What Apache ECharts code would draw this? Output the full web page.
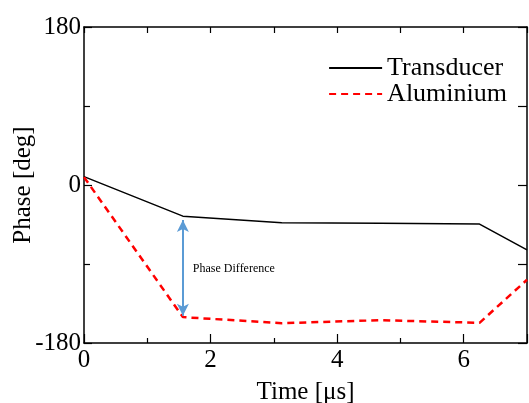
<!DOCTYPE html>
<html>
<head>
<meta charset="utf-8">
<script src="https://cdn.jsdelivr.net/npm/echarts@6/dist/echarts.min.js"></script>
<style>
  html, body { margin: 0; padding: 0; background: #fff; }
  #chart { width: 529px; height: 403px; }
</style>
</head>
<body>
<div id="chart"></div>
<script>
// 数据
var times = [0, 1.5625, 3.125, 4.6875, 6.25, 7];
var transducer = [9.5, -35.5, -43, -43.5, -44.5, -74];
var aluminium = [9, -150.5, -157.5, -154, -157, -108];
var arrowY = [-40, -149];      // 相位差箭头的两端
var arrowX = 1.5625;
var noteXY = [1.72, -95];      // "Phase Difference" 文字位置
var seriesNames = ['Transducer', 'Aluminium'];

var font = 'Liberation Serif';

function pairs(xs, ys) {
    return xs.map(function (x, i) { return [x, ys[i]]; });
}

var myChart = echarts.init(document.getElementById('chart'));

var option = {
    animation: false,
    backgroundColor: '#fff',
    textStyle: { fontFamily: font },
    grid: { left: 84, right: 2, top: 27, bottom: 60, containLabel: false, outerBoundsMode: 'none' },
    legend: {
        data: seriesNames,
        orient: 'vertical',
        right: 22,
        top: 55,
        padding: 0,
        itemGap: 0,
        itemWidth: 53,
        itemHeight: 14,
        itemStyle: { opacity: 0 },
        textStyle: { fontFamily: font, fontSize: 26, lineHeight: 26, color: '#000' }
    },
    xAxis: [{
        type: 'value',
        min: 0, max: 7, interval: 2,
        name: 'Time [\u03bcs]',
        nameLocation: 'middle',
        nameGap: 37,
        nameMoveOverlap: false,
        nameTextStyle: { fontFamily: font, fontSize: 25, color: '#000' },
        axisLine: { onZero: false, lineStyle: { color: '#000', width: 1.5 } },
        axisTick: { inside: true, length: 9, lineStyle: { color: '#000', width: 1.2 } },
        minorTick: { show: true, splitNumber: 2, length: 5, lineStyle: { color: '#000', width: 1.2 } },
        axisLabel: { showMaxLabel: false, margin: 5, fontFamily: font, fontSize: 25, color: '#000' },
        splitLine: { show: false }
    }, {
        type: 'value',
        position: 'top',
        min: 0, max: 7, interval: 2,
        axisLine: { onZero: false, lineStyle: { color: '#000', width: 1.5 } },
        axisTick: { inside: true, length: 6, lineStyle: { color: '#000', width: 1.2 } },
        minorTick: { show: true, splitNumber: 2, length: 6, lineStyle: { color: '#000', width: 1.2 } },
        axisLabel: { show: false },
        splitLine: { show: false }
    }],
    yAxis: [{
        type: 'value',
        min: -180, max: 180, interval: 180,
        name: 'Phase [deg]',
        nameLocation: 'middle',
        nameGap: 48,
        nameMoveOverlap: false,
        nameTextStyle: { fontFamily: font, fontSize: 25, color: '#000' },
        axisLine: { onZero: false, lineStyle: { color: '#000', width: 1.5 } },
        axisTick: { inside: true, length: 8, lineStyle: { color: '#000', width: 1.2 } },
        minorTick: { show: true, splitNumber: 2, length: 6, lineStyle: { color: '#000', width: 1.2 } },
        axisLabel: { margin: 3, fontFamily: font, fontSize: 25, color: '#000' },
        splitLine: { show: false }
    }, {
        type: 'value',
        position: 'right',
        min: -180, max: 180, interval: 180,
        axisLine: { onZero: false, lineStyle: { color: '#000', width: 1.5 } },
        axisTick: { inside: true, length: 9, lineStyle: { color: '#000', width: 1.2 } },
        minorTick: { show: true, splitNumber: 2, length: 9, lineStyle: { color: '#000', width: 1.2 } },
        axisLabel: { show: false },
        splitLine: { show: false }
    }],
    series: [{
        name: seriesNames[0],
        type: 'line',
        symbol: 'none',
        data: pairs(times, transducer),
        lineStyle: { color: '#000', width: 1.5 },
        itemStyle: { color: '#000' },
        markLine: {
            silent: true,
            symbol: ['arrow', 'arrow'],
            symbolSize: [9, 12],
            label: { show: false },
            lineStyle: { color: '#5b9bd5', width: 2, type: 'solid' },
            data: [[{ coord: [arrowX, arrowY[0]] }, { coord: [arrowX, arrowY[1]] }]]
        },
        markPoint: {
            silent: true,
            symbol: 'circle',
            symbolSize: 0,
            label: {
                show: true,
                position: 'right',
                distance: 0,
                formatter: 'Phase Difference',
                fontFamily: font,
                fontSize: 12,
                color: '#000'
            },
            data: [{ coord: noteXY }]
        }
    }, {
        name: seriesNames[1],
        type: 'line',
        symbol: 'none',
        data: pairs(times, aluminium),
        lineStyle: { color: '#ff0000', width: 2.5, type: [7, 5] },
        itemStyle: { color: '#ff0000' }
    }]
};

myChart.setOption(option);
</script>
</body>
</html>
